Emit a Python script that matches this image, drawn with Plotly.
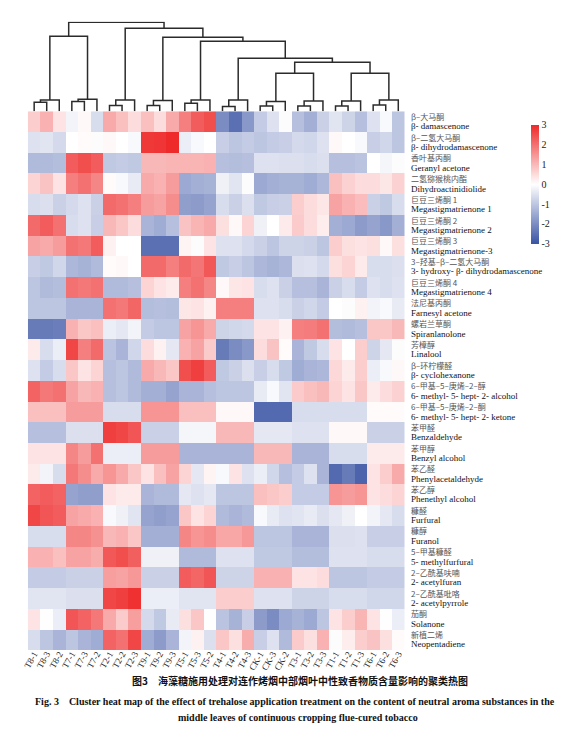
"""
Cluster heat map of neutral aroma substances under trehalose treatments (Fig. 3).
"""

import plotly.graph_objects as go

columns = ['T8-1', 'T8-3', 'T8-2', 'T7-1', 'T7-3', 'T7-2', 'T2-1', 'T2-2', 'T2-3',
           'T9-1', 'T9-2', 'T9-3', 'T5-1', 'T5-3', 'T5-2', 'T4-1', 'T4-2', 'T4-3',
           'CK-1', 'CK-3', 'CK-2', 'T3-1', 'T3-2', 'T3-3', 'T1-1', 'T1-2', 'T1-3',
           'T6-1', 'T6-2', 'T6-3']

names_cn = ['β–大马酮', 'β–二氢大马酮', '香叶基丙酮', '二氢猕猴桃内酯', '巨豆三烯酮 1',
            '巨豆三烯酮 2', '巨豆三烯酮 3', '3–羟基–β–二氢大马酮', '巨豆三烯酮 4',
            '法尼基丙酮', '螺岩兰草酮', '芳樟醇', 'β–环柠檬醛', '6–甲基–5–庚烯–2–醇',
            '6–甲基–5–庚烯–2–酮', '苯甲醛', '苯甲醇', '苯乙醛', '苯乙醇', '糠醛', '糠醇',
            '5–甲基糠醛', '2–乙酰基呋喃', '2–乙酰基吡咯', '茄酮', '新植二烯']

names_en = ['β- damascenone', 'β- dihydrodamascenone', 'Geranyl acetone',
            'Dihydroactinidiolide', 'Megastigmatrienone 1', 'Megastigmatrienone 2',
            'Megastigmatrienone-3', '3- hydroxy- β- dihydrodamascenone',
            'Megastigmatrienone 4', 'Farnesyl acetone', 'Spiranlanolone', 'Linalool',
            'β- cyclohexanone', '6- methyl- 5- hept- 2- alcohol', '6- methyl- 5- hept- 2- ketone',
            'Benzaldehyde', 'Benzyl alcohol', 'Phenylacetaldehyde', 'Phenethyl alcohol',
            'Furfural', 'Furanol', '5- methylfurfural', '2- acetylfuran', '2- acetylpyrrole',
            'Solanone', 'Neopentadiene']

# standardized content, one row per compound, columns in the order above
z_values = [
    [0.7, 1.1, 0.4, -0.2, 0.1, -0.6, 1.2, 0.9, 0.5, 0.9, 0.5, 1.2, 1.8, 2.3, 2.5, -2.0, -2.5, -1.8, -0.9, -0.5, -0.05, -1.1, -1.4, -0.8, -0.45, -0.75, -1.1, -0.5, -0.1, -1.0],
    [-0.5, -0.45, -0.65, 0.0, 0.05, -0.05, 0.1, 0.0, -0.1, 2.8, 2.85, 3.0, -0.3, -0.1, 0.0, -0.85, -1.0, -0.9, -1.0, -0.9, -0.85, -0.65, -0.7, -0.5, 0.1, 0.0, -0.1, -0.85, -0.7, -1.0],
    [-1.2, -1.2, -1.15, 2.3, 2.5, 2.3, -0.95, -0.9, -0.95, 1.0, 1.0, 1.05, 1.05, 1.05, 1.1, -1.1, -1.15, -1.1, -0.5, -0.5, -0.55, -0.55, -0.6, -0.55, -1.1, -1.1, -1.05, 0.0, -0.15, -0.05],
    [0.6, 0.85, 0.4, 1.8, 2.0, 1.7, 0.05, -0.1, -0.35, 1.2, 1.1, 1.4, -1.5, -1.4, -1.35, -0.25, -0.45, -0.05, -1.5, -1.4, -1.35, -1.35, -1.45, -1.25, 0.9, 0.65, 0.5, 0.5, 0.35, 0.65],
    [-0.6, -0.55, -0.8, -0.65, -0.5, -0.8, 2.1, 2.0, 1.8, 1.4, 1.3, 1.6, -1.7, -1.75, -1.6, -0.6, -0.8, -0.55, -0.95, -0.85, -0.8, 0.7, 0.5, 0.35, 1.3, 1.1, 0.95, -0.8, -0.95, -0.6],
    [2.1, 2.3, 2.0, -0.6, -0.5, -0.85, 1.0, 0.8, 0.5, -1.3, -1.45, -1.1, 0.85, 1.05, 1.2, 0.45, 0.1, 0.6, -0.25, 0.0, 0.3, 0.75, 0.5, 0.25, -1.4, -1.5, -1.75, -1.6, -1.8, -1.4],
    [1.3, 1.2, 1.4, 2.0, 1.9, 2.3, 0.2, 0.0, 0.0, -2.5, -2.5, -2.5, 0.15, -0.05, 0.4, -0.5, -0.5, -0.65, -0.8, -1.0, -0.75, -0.75, -0.8, -1.0, 0.7, 0.45, 0.4, 0.45, 0.1, 0.45],
    [-0.85, -0.95, -0.7, -1.25, -1.35, -1.2, 0.05, 0.1, 0.0, 2.1, 2.1, 1.8, 2.1, 1.95, 2.35, -0.95, -0.85, -1.0, -1.25, -1.35, -1.25, -0.55, -0.5, -0.65, 0.45, 0.6, 0.3, -0.6, -0.6, -0.55],
    [-1.0, -1.2, -1.15, 2.0, 1.9, 2.0, -1.2, -1.2, -1.1, 0.6, 0.4, 0.3, 1.8, 2.0, 1.7, 0.1, 0.35, 0.4, -0.6, -0.5, -0.8, -1.1, -1.1, -1.3, -0.8, -0.6, -0.9, -0.5, -0.6, -0.5],
    [-1.0, -1.0, -1.0, -1.3, -1.3, -1.3, 2.0, 1.9, 2.15, -1.15, -1.1, -1.15, 0.35, 0.4, 0.2, 1.8, 1.8, 1.8, -0.5, -0.5, -0.6, -0.8, -0.7, -0.9, 0.0, -0.05, 0.2, -0.2, -0.1, -0.35],
    [-2.3, -2.3, -2.25, 1.1, 0.8, 0.9, -0.3, -0.4, -0.2, -0.9, -1.0, -1.0, 1.3, 1.5, 1.2, -0.75, -0.7, -0.65, 0.4, 0.4, 0.2, 1.8, 1.85, 2.0, -1.15, -1.2, -1.1, 0.8, 0.8, 1.0],
    [0.3, -0.6, -0.3, 2.6, 1.8, 2.1, -1.05, -1.3, -0.7, 0.5, 0.2, -0.4, 1.1, 1.3, 0.75, -2.3, -2.0, -1.8, 0.5, 0.85, 0.05, -1.3, -0.95, -0.6, 0.4, 0.0, 0.7, -0.75, -0.4, -0.05],
    [-0.5, -0.9, -0.6, 0.8, 0.4, 0.6, -1.1, -1.0, -1.2, 1.2, 1.0, 0.8, 2.5, 2.7, 2.3, -0.95, -0.8, -0.55, -0.85, -0.6, -0.95, -1.45, -1.3, -1.25, 0.55, 0.3, 0.7, -0.3, -0.1, 0.1],
    [2.2, 1.9, 2.0, 1.3, 1.0, 1.1, -1.1, -1.0, -1.2, -1.4, -1.4, -1.6, -1.3, -1.3, -1.1, -1.0, -1.0, -1.0, -0.35, -0.1, -0.45, 0.75, 0.9, 1.0, 0.6, 0.4, 0.8, 0.3, 0.5, 0.65],
    [0.9, 0.9, 0.9, 1.4, 1.4, 1.4, -0.6, -0.6, -0.6, 1.5, 1.5, 1.5, 0.9, 0.9, 0.9, 0.1, 0.1, 0.1, -2.6, -2.6, -2.6, -0.6, -0.6, -0.6, -0.6, -0.6, -0.6, 0.05, 0.05, 0.05],
    [-1.1, -1.1, -1.1, -0.55, -0.55, -0.55, 2.7, 2.6, 2.4, -0.8, -0.8, -0.8, -0.15, -0.15, -0.15, 1.0, 1.0, 1.0, -0.4, -0.4, -0.4, -0.5, -0.5, -0.5, 0.1, 0.1, 0.1, -0.8, -0.8, -0.8],
    [0.4, 0.4, 0.4, 1.7, 1.4, 2.0, -0.3, -0.3, -0.3, 1.4, 1.4, 1.4, -1.3, -1.3, -1.3, -1.3, -1.3, -1.3, 1.0, 1.0, 1.0, -1.3, -1.3, -1.3, -0.6, -0.6, -0.6, 0.3, 0.3, 0.3],
    [0.3, -0.2, -0.6, 1.9, 1.6, 1.2, 1.5, 1.2, 0.8, 0.4, 0.9, 1.3, 0.6, -0.4, 0.15, -0.1, 0.4, -0.5, -0.3, -0.7, -1.1, -0.9, -0.5, -1.3, -2.6, -2.3, -2.7, 0.4, 0.7, 1.2],
    [2.2, 2.3, 2.2, -1.6, -1.7, -1.7, 0.4, 0.3, 0.3, -1.3, -1.2, -1.2, -0.4, -0.5, -0.4, -1.0, -1.0, -1.0, 0.9, 0.8, 0.7, -0.9, -0.9, -0.9, 1.5, 1.4, 1.5, 0.4, 0.5, 0.6],
    [2.6, 2.4, 2.3, 1.3, 1.2, 1.1, -0.1, -0.25, -0.45, -1.6, -1.7, -1.6, 0.8, 0.4, 0.6, -1.2, -1.3, -1.2, -0.1, -0.35, -0.5, -0.45, -0.35, -0.55, -0.4, -0.25, 0.0, -0.2, -0.4, -0.6],
    [-0.6, -0.6, -0.6, 1.7, 1.7, 1.55, 1.0, 1.1, 0.8, -1.4, -1.4, -1.4, 1.7, 1.5, 1.6, 1.25, 1.25, 1.45, -1.0, -1.0, -1.0, -1.3, -1.3, -1.3, -0.55, -0.55, -0.5, -0.85, -0.85, -0.85],
    [1.1, 1.1, 0.9, 1.3, 1.3, 1.15, 2.35, 2.5, 2.25, -0.25, -0.25, -0.25, -1.2, -1.2, -1.2, -0.5, -0.5, -0.5, -0.95, -0.95, -0.95, -1.15, -1.15, -1.15, -0.5, -0.5, -0.5, -0.6, -0.6, -0.6],
    [-0.9, -0.9, -0.9, -0.8, -0.8, -0.8, 1.35, 1.3, 1.45, -0.8, -0.8, -0.8, 2.3, 2.15, 2.4, -0.75, -0.75, -0.75, 1.1, 1.1, 1.1, 0.4, 0.4, 0.5, -1.0, -1.0, -1.0, -0.9, -0.9, -0.9],
    [-0.45, -0.45, -0.45, -0.55, -0.55, -0.55, 2.6, 2.7, 2.9, -0.3, -0.3, -0.3, -0.45, -0.45, -0.45, 0.7, 0.7, 0.7, -0.5, -0.5, -0.5, -0.75, -0.75, -0.75, -0.6, -0.6, -0.6, -0.7, -0.7, -0.7],
    [0.4, 0.02, -0.3, 2.4, 2.2, 1.9, 1.2, 0.75, 1.35, -0.65, -0.95, -0.35, 0.45, 0.8, 0.02, -1.05, -1.35, -0.85, -1.75, -2.0, -1.5, -1.35, -1.5, -1.0, 0.4, 0.7, 1.05, 0.4, 0.02, -0.3],
    [-0.6, -1.0, -1.3, -1.0, -1.3, -1.45, 2.2, 2.0, 2.6, -1.45, -1.75, -1.3, -0.2, 0.2, -0.55, 0.8, 0.45, 1.15, -0.85, -0.5, -1.2, 0.75, 0.45, 1.1, -0.05, 0.25, 0.7, 0.85, 0.45, 0.05],
]

# column dendrogram: (left node, right node, height); nodes 0-29 are the columns,
# node 30 + k is the k-th merge below
col_merges = [
    (0, 1, 9.0), (30, 2, 11.3),      # T8
    (3, 4, 9.7), (32, 5, 12.0),      # T7
    (6, 7, 5.7), (34, 8, 11.3),      # T2
    (9, 10, 5.7), (36, 11, 10.7),    # T9
    (12, 13, 8.0), (38, 14, 11.3),   # T5
    (15, 16, 4.7), (40, 17, 11.3),   # T4
    (18, 19, 5.3), (42, 20, 9.7),    # CK
    (21, 22, 5.3), (44, 23, 10.3),   # T3
    (24, 25, 5.3), (46, 26, 10.3),   # T1
    (27, 28, 6.3), (48, 29, 11.3),   # T6
    (43, 45, 38.0), (47, 49, 38.0), (50, 51, 49.0), (41, 52, 53.0),
    (39, 53, 70.0), (37, 54, 74.0), (35, 55, 83.0), (31, 33, 75.0),
    (57, 56, 89.0),
]

node_x = list(range(len(columns)))
node_h = [0.0] * len(columns)
tree_x, tree_y = [], []
for a, b, h in col_merges:
    tree_x += [node_x[a], node_x[a], node_x[b], node_x[b], None]
    tree_y += [node_h[a], h, h, node_h[b], None]
    node_x.append((node_x[a] + node_x[b]) / 2)
    node_h.append(h)

fig = go.Figure()
fig.add_trace(
    go.Heatmap(
        z=z_values,
        x=list(range(len(columns))),
        y=list(range(len(names_en))),
        zmin=-3,
        zmax=3,
        colorscale=[[0, '#3953a4'], [0.5, '#ffffff'], [1, '#ee2a2a']],
        colorbar=dict(
            x=0.916, xanchor='left', y=0.84, yanchor='top',
            len=0.163, thickness=8, outlinewidth=0, xpad=0, ypad=0,
            tickvals=[-3, -2, -1, 0, 1, 2, 3],
            ticktext=['-3', '-2', '-1', '0', '1', '2', '3'],
            ticks='', tickfont=dict(family='Liberation Serif', size=10, color='#222')
        ),
        hovertemplate='%{x}<br>%{y}<br>%{z:.2f}<extra></extra>'
    )
)
fig.add_trace(
    go.Scatter(
        x=tree_x, y=tree_y,
        mode='lines',
        line=dict(color='#2b2b2b', width=1.5),
        xaxis='x2', yaxis='y2',
        showlegend=False, hoverinfo='skip'
    )
)

fig.update_layout(
    width=571,
    height=730,
    margin=dict(l=0, r=0, t=0, b=0),
    paper_bgcolor='white',
    plot_bgcolor='white',
    showlegend=False,
    xaxis=dict(
        domain=[0.0263, 0.6918], range=[-0.5, 29.5],
        tickvals=list(range(len(columns))), ticktext=columns, tickangle=-60,
        tickfont=dict(family='Liberation Serif', size=9, color='#222'),
        ticks='', ticklen=0, ticklabelstandoff=-4,
        showgrid=False, zeroline=False, showline=False
    ),
    yaxis=dict(
        domain=[0.1205, 0.8585], range=[25.5, -0.5],
        showticklabels=False, ticks='', showgrid=False, zeroline=False, showline=False
    ),
    xaxis2=dict(domain=[0.0263, 0.6918], anchor='y2', range=[-0.5, 29.5], visible=False),
    yaxis2=dict(domain=[0.8585, 0.981], anchor='x2', range=[0, 89.5], visible=False),
)

# two-line row labels to the right of the heat map
for i, (cn, en) in enumerate(zip(names_cn, names_en)):
    fig.add_annotation(
        text=cn, x=400 / 571, y=i - 0.25, xref='paper', yref='y',
        xanchor='left', yanchor='middle', showarrow=False,
        font=dict(family='Noto Sans CJK SC', size=8, color='#555555')
    )
    fig.add_annotation(
        text=en, x=400 / 571, y=i + 0.23, xref='paper', yref='y',
        xanchor='left', yanchor='middle', showarrow=False,
        font=dict(family='Liberation Serif', size=9, color='#111111')
    )

fig.add_annotation(
    text='<b>图3　海藻糖施用处理对连作烤烟中部烟叶中性致香物质含量影响的聚类热图</b>',
    x=0.507, y=1 - 682 / 730, xref='paper', yref='paper', showarrow=False,
    font=dict(family='Noto Sans CJK SC', size=10, color='#111')
)
fig.add_annotation(
    text='<b>Fig. 3    Cluster heat map of the effect of trehalose application treatment on the content of neutral aroma substances in the</b>',
    x=20 / 571, y=1 - 701 / 730, xref='paper', yref='paper', xanchor='left', showarrow=False,
    font=dict(family='Liberation Serif', size=10, color='#111')
)
fig.add_annotation(
    text='<b>middle leaves of continuous cropping flue-cured tobacco</b>',
    x=0.503, y=1 - 717 / 730, xref='paper', yref='paper', showarrow=False,
    font=dict(family='Liberation Serif', size=10, color='#111')
)

fig.write_html("out.html")
